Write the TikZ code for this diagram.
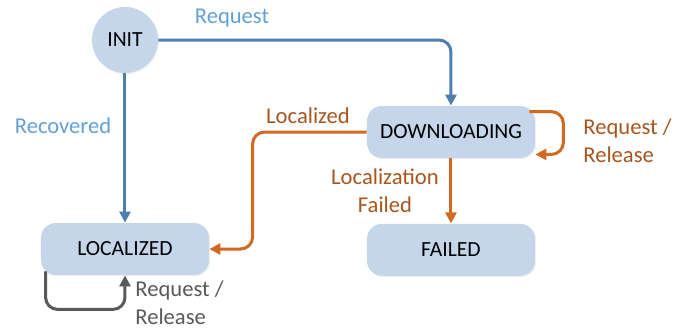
\documentclass[tikz,border=0pt]{standalone}
\usepackage{fontspec}
\setmainfont{Carlito}
\usetikzlibrary{calc,positioning,arrows.meta,shadows}
\definecolor{statefill}{RGB}{197,214,234}
\definecolor{flowblue}{RGB}{78,127,176}
\definecolor{textblue}{RGB}{98,160,216}
\definecolor{floworange}{RGB}{208,106,34}
\definecolor{textorange}{RGB}{168,86,30}
\definecolor{flowgray}{RGB}{89,89,89}
\tikzset{
  state/.style={ % rounded box of a state
    rectangle, rounded corners=7.5pt, fill=statefill,
    minimum width=84pt, minimum height=26pt, inner sep=2pt,
    font=\fontsize{10.8}{12}\selectfont, text=black,
    drop shadow={opacity=0.12, shadow xshift=0.6pt, shadow yshift=-0.6pt}
  },
  initstate/.style={ % circle of the start state
    circle, fill=statefill, minimum size=33pt, inner sep=0pt,
    font=\fontsize{10.8}{12}\selectfont, text=black,
    drop shadow={opacity=0.12, shadow xshift=0.6pt, shadow yshift=-0.6pt}
  },
  flow/.style={ % transition arrow
    line width=1.5pt, rounded corners=6pt,
    -{Triangle[length=5.5pt,width=5.5pt]}
  },
  label/.style={
    font=\fontsize{11.3}{13.8}\selectfont, inner sep=0pt
  }
}

\begin{document}
\begin{tikzpicture}[x=0.5pt, y=-0.5pt]
  \useasboundingbox (0,0) rectangle (677,328);

  \node[initstate] (init) at (125,40) {INIT};
  \node[state] (down) at (451,132) {DOWNLOADING};
  \node[state] (failed) [below=32.5pt of down] {FAILED};
  \node[state] (loc) at (125,249) {LOCALIZED};

  \node[label, text=textblue] (req_label) at (232,18) {Request};
  \node[label, text=textblue] (rec_label) at (63,126) {Recovered};
  \node[label, text=textorange] (lcd_label) at (308,116) {Localized};
  \node[label, text=textorange, align=center] (lf_label) at (385,191) {Localization\\Failed};
  \node[label, text=textorange, align=left, anchor=west] (dl_loop_label) at (583,141) {Request /\\Release};
  \node[label, text=flowgray, align=left, anchor=west] (loc_loop_label) at (135,303) {Request /\\Release};

  \draw[flow, flowblue] (init.east) -| (down.north);
  \draw[flow, flowblue] (init.south) -- (loc.north);
  \draw[flow, floworange] (down.west) -- ++(-114,0) |- (loc.east);
  \draw[flow, floworange] (down.south) -- (failed.north);
  \draw[flow, floworange] ($(down.north east)+(-6,6)$) -- ++(34,0) |- ($(down.south east)+(0,-4)$);
  \draw[flow, flowgray] ($(loc.south west)+(5,-4)$) |- ($(loc.south)+(0,34)$) -- (loc.south);
\end{tikzpicture}
\end{document}
